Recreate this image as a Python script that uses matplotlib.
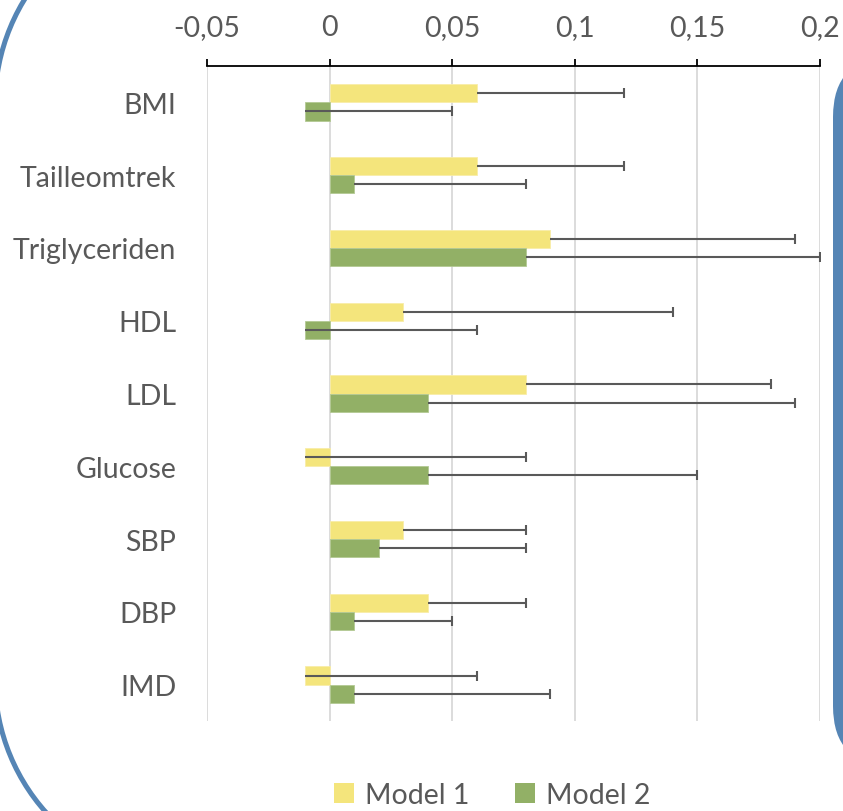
import matplotlib
matplotlib.use("Agg")
import matplotlib.pyplot as plt
from matplotlib.patches import FancyBboxPatch, Patch, Arc

# data
categories = ["BMI", "Tailleomtrek", "Triglyceriden", "HDL", "LDL",
              "Glucose", "SBP", "DBP", "IMD"]
model1 = [0.06, 0.06, 0.09, 0.03, 0.08, -0.01, 0.03, 0.04, -0.01]
model1_upper = [0.12, 0.12, 0.19, 0.14, 0.18, 0.08, 0.08, 0.08, 0.06]
model2 = [-0.01, 0.01, 0.08, -0.01, 0.04, 0.04, 0.02, 0.01, 0.01]
model2_upper = [0.05, 0.08, 0.20, 0.06, 0.19, 0.15, 0.08, 0.05, 0.09]
xticks = [-0.05, 0, 0.05, 0.1, 0.15, 0.2]
xticklabels = ["-0,05", "0", "0,05", "0,1", "0,15", "0,2"]

yellow = "#F4E57C"
green = "#92B066"
blue = "#5585B5"
grey = "#595959"

plt.rcParams['font.family'] = ['Lato', 'DejaVu Sans']

fig = plt.figure(figsize=(8.43, 8.12), dpi=100)

# poster decoration behind the chart (in inches, y from bottom)
fig.add_artist(Arc((1.95, 7.07), 4.0, 4.0, theta1=90, theta2=180,
                   transform=fig.dpi_scale_trans, color=blue, linewidth=3.6, zorder=0))
fig.add_artist(Arc((1.95, 1.32), 4.0, 4.0, theta1=180, theta2=270,
                   transform=fig.dpi_scale_trans, color=blue, linewidth=3.6, zorder=0))
side = FancyBboxPatch((8.33, 0.45), 2.0, 7.09,
                      boxstyle="round,pad=0,rounding_size=0.6",
                      transform=fig.dpi_scale_trans,
                      facecolor=blue, edgecolor="none", zorder=0)
fig.add_artist(side)

ax = fig.add_axes([0.2456, 0.1108, 0.9727 - 0.2456, 0.9175 - 0.1108])
ax.set_facecolor("none")

ypos = list(range(len(categories)))
h = 0.25
y1 = [y - h / 2 for y in ypos]
y2 = [y + h / 2 for y in ypos]

ax.barh(y1, model1, height=h, color=yellow, edgecolor="#F8EDA8", linewidth=0.6, zorder=2)
ax.barh(y2, model2, height=h, color=green, edgecolor="#B3C993", linewidth=0.6, zorder=2)

# plus-only error bars
for ys, vals, ups in [(y1, model1, model1_upper), (y2, model2, model2_upper)]:
    ax.hlines(ys, vals, ups, color=grey, linewidth=1.5, zorder=3)
    ax.plot(ups, ys, linestyle="none", marker="|", markersize=7.5,
            markeredgewidth=1.5, color=grey, zorder=3)

ax.set_xlim(-0.05, 0.2)
ax.set_ylim(8.5, -0.5)
ax.set_xticks(xticks)
ax.set_xticklabels(xticklabels)
ax.set_yticks(ypos)
ax.set_yticklabels(categories)

ax.xaxis.tick_top()
ax.grid(axis="x", color="#D9D9D9", linewidth=1.3, zorder=0)
ax.set_axisbelow(True)
for s in ["left", "right", "bottom"]:
    ax.spines[s].set_visible(False)
ax.spines["top"].set_color("black")
ax.spines["top"].set_linewidth(1.3)

ax.tick_params(axis="x", direction="out", length=5, width=1.3, color="black",
               pad=14, labelsize=20.5, labelcolor=grey)
ax.tick_params(axis="y", length=0, pad=22, labelsize=20.5, labelcolor=grey)

handles = [Patch(facecolor=yellow, edgecolor="none"),
           Patch(facecolor=green, edgecolor="none")]
fig.legend(handles, ["Model 1", "Model 2"], loc="center",
           bbox_to_anchor=(0.584, 0.02), ncol=2, frameon=False,
           fontsize=20.5, labelcolor=grey, handlelength=0.7, handleheight=0.7,
           handletextpad=0.4, columnspacing=1.6)

fig.savefig("out.png", dpi=100)
